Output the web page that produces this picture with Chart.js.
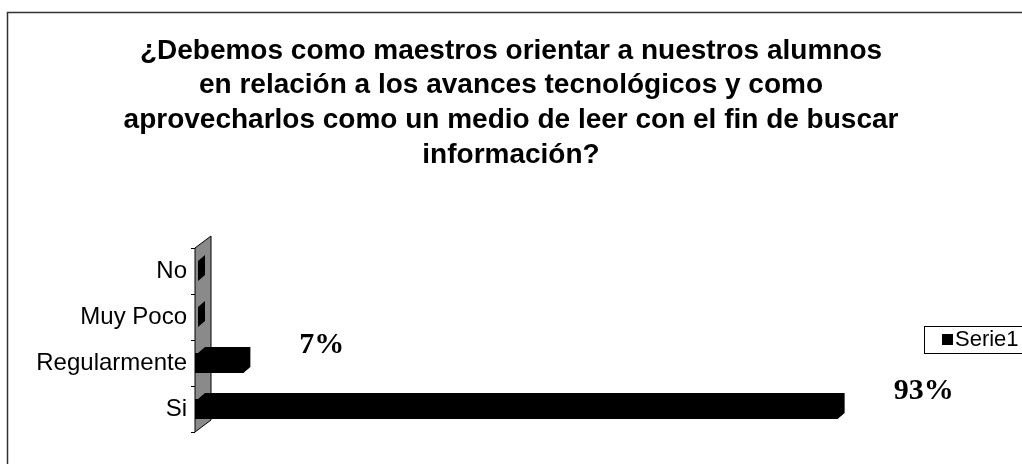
<!DOCTYPE html>
<html>
<head>
<meta charset="utf-8">
<script src="https://cdn.jsdelivr.net/npm/chart.js@4/dist/chart.umd.min.js"></script>
<style>
  html, body { margin: 0; padding: 0; background: #fff; overflow: hidden; }
  #wrap { position: relative; width: 1022px; height: 464px; }
</style>
</head>
<body>
<div id="wrap"><canvas id="chart"></canvas></div>
<script>
const TITLE_LINES = [
    "¿Debemos como maestros orientar a nuestros alumnos",
    "en relación a los avances tecnológicos y como",
    "aprovecharlos como un medio de leer con el fin de buscar",
    "información?",
];
const CATEGORIES = ["No", "Muy Poco", "Regularmente", "Si"];
const SERIE1 = [0, 0, 7, 93];
const SERIES_NAME = "Serie1";
const X_MAX = 100;

const SANS = '"Liberation Sans", Arial, sans-serif';
const SERIF = '"Liberation Serif", "Times New Roman", serif';

// fake excel 3d look: side wall, bar depth, labels, title, legend, frame
const excel3d = {
    id: "excel3d",
    beforeDatasetsDraw(chart) {
        const { ctx, chartArea } = chart;
        const L = chartArea.left, T = chartArea.top, B = chartArea.bottom;
        const wdx = 16, wdy = 12;
        ctx.save();
        ctx.beginPath();
        ctx.moveTo(L, T);
        ctx.lineTo(L + wdx, T - wdy);
        ctx.lineTo(L + wdx, B - wdy);
        ctx.lineTo(L, B);
        ctx.closePath();
        ctx.fillStyle = "#8a8a8a";
        ctx.fill();
        ctx.strokeStyle = "#000";
        ctx.lineWidth = 1;
        ctx.stroke();

        const dx = 7, dy = 6;
        ctx.fillStyle = "#000";
        chart.getDatasetMeta(0).data.forEach((bar) => {
            const p = bar.getProps(["x", "y", "base", "height"], true);
            const top = p.y - p.height / 2, bot = p.y + p.height / 2;
            const x0 = p.base + 3, x1 = Math.max(p.x, x0);
            ctx.beginPath();
            ctx.moveTo(x0, top);
            ctx.lineTo(x0 + dx, top - dy);
            ctx.lineTo(x1 + dx, top - dy);
            ctx.lineTo(x1 + dx, bot - dy);
            ctx.lineTo(x1, bot);
            ctx.lineTo(x0, bot);
            ctx.closePath();
            ctx.fill();
        });
        ctx.restore();
    },
    afterDatasetsDraw(chart) {
        const { ctx } = chart;
        ctx.save();
        ctx.font = `bold 30px ${SERIF}`;
        ctx.fillStyle = "#000";
        ctx.textAlign = "left";
        ctx.textBaseline = "middle";
        chart.getDatasetMeta(0).data.forEach((bar, i) => {
            const v = SERIE1[i];
            if (!v) return;
            ctx.fillText(`${v}%`, bar.x + 56, bar.y - 18);
        });
        ctx.restore();
    },
    afterDraw(chart) {
        const { ctx, width } = chart;
        ctx.save();
        // title
        ctx.font = `bold 28px ${SANS}`;
        ctx.fillStyle = "#000";
        ctx.textAlign = "center";
        ctx.textBaseline = "middle";
        TITLE_LINES.forEach((line, i) => ctx.fillText(line, width / 2, 51 + i * 34.7));

        // legend
        ctx.strokeStyle = "#000";
        ctx.lineWidth = 1;
        ctx.strokeRect(924.5, 326.5, 140, 27);
        ctx.fillRect(942, 334, 11, 11);
        ctx.font = `22px ${SANS}`;
        ctx.textAlign = "left";
        ctx.fillText(SERIES_NAME, 955, 340);

        // outer frame
        ctx.strokeStyle = "#333";
        ctx.lineWidth = 1.5;
        ctx.beginPath();
        ctx.moveTo(7.5, 470);
        ctx.lineTo(7.5, 12.5);
        ctx.lineTo(1030, 12.5);
        ctx.stroke();
        ctx.restore();
    },
};

new Chart(document.getElementById("chart"), {
    type: "bar",
    data: {
        labels: CATEGORIES,
        datasets: [{
            label: SERIES_NAME,
            data: SERIE1,
            backgroundColor: "#000",
            borderWidth: 0,
            categoryPercentage: 1,
            barPercentage: 0.44,
        }],
    },
    options: {
        indexAxis: "y",
        responsive: true,
        maintainAspectRatio: false,
        animation: false,
        layout: { padding: { top: 248, bottom: 32, left: 8, right: 136 } },
        plugins: {
            legend: { display: false },
            title: { display: false },
            tooltip: { enabled: false },
        },
        scales: {
            x: { display: false, min: 0, max: X_MAX },
            y: {
                afterFit: (s) => { s.width = 187; },
                border: { display: false },
                grid: { drawOnChartArea: false, drawTicks: true, tickLength: 4, color: "#000", offset: true },
                ticks: { color: "#000", padding: 4, font: { family: SANS, size: 24 } },
            },
        },
    },
    plugins: [excel3d],
});
</script>
</body>
</html>
